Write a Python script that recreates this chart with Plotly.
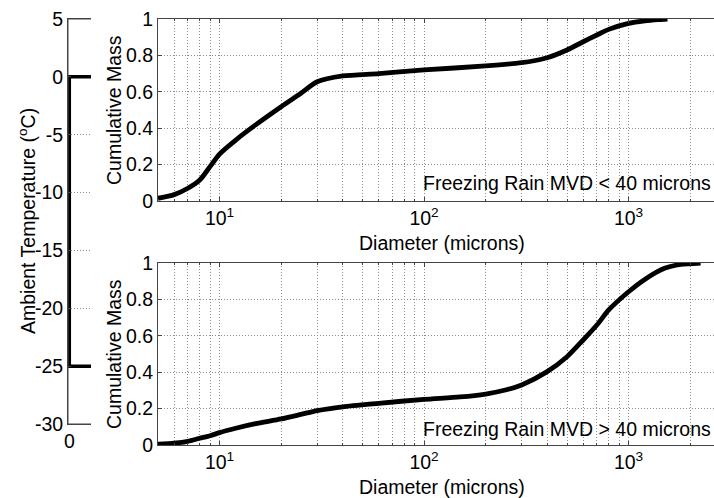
import math
import plotly.graph_objects as go

# ---- data ----
diam_small = [5, 6, 7, 8, 9, 10, 12, 15, 20, 25, 30, 40, 60, 100, 200, 300, 350,
              400, 500, 600, 700, 800, 1000, 1200, 1400, 1550]
mass_small = [0.015, 0.035, 0.07, 0.115, 0.19, 0.258, 0.335, 0.418, 0.518, 0.592,
              0.655, 0.687, 0.70, 0.72, 0.742, 0.76, 0.772, 0.787, 0.83, 0.875,
              0.912, 0.943, 0.976, 0.99, 0.997, 1.0]

diam_large = [5, 6, 7, 8, 9, 10, 12, 15, 20, 25, 30, 40, 60, 100, 150, 200, 250,
              300, 400, 500, 600, 700, 800, 1000, 1200, 1500, 1800, 2250]
mass_large = [0.005, 0.01, 0.02, 0.037, 0.051, 0.068, 0.092, 0.117, 0.143, 0.168,
              0.189, 0.21, 0.229, 0.251, 0.264, 0.28, 0.302, 0.33, 0.403, 0.485,
              0.577, 0.659, 0.742, 0.842, 0.91, 0.971, 0.992, 1.0]

temp_warm = 0     # degC, upper temperature bound
temp_cold = -25   # degC, lower temperature bound
bracket_x = [1, 0, 0, 1]

x_major = [10, 100, 1000]
x_major_text = ["10<sup>1</sup>", "10<sup>2</sup>", "10<sup>3</sup>"]
x_minor = [5, 6, 7, 8, 9, 20, 30, 40, 50, 60, 70, 80, 90,
           200, 300, 400, 500, 600, 700, 800, 900, 2000]
y_ticks = [0, 0.2, 0.4, 0.6, 0.8, 1]
y_ticktext = ["0", "0.2", "0.4", "0.6", "0.8", "1"]
t_ticks = [5, 0, -5, -10, -15, -20, -25, -30]
t_ticktext = ["5", "0", "-5", "-10", "-15", "-20", "-25", "-30"]

label_small = "Freezing Rain MVD < 40 microns"
label_large = "Freezing Rain MVD > 40 microns"

# ---- styling ----
W, H = 714, 498
FONT = "Liberation Sans, Arial, Helvetica, sans-serif"
FS = 19.5
AX = "#444444"
GRID = "#8c8c8c"
DASH = "1px,2px"


def px_x(p):
    return p / W


def px_y(p):
    return 1 - p / H


x_lo = math.log10(5)
x_hi = x_lo + (714 - 158) / 204.5

fig = go.Figure()
curve = dict(color="black", width=4.8, shape="spline", smoothing=0.7)
fig.add_trace(go.Scatter(x=diam_small, y=mass_small, mode="lines", line=curve,
                         xaxis="x", yaxis="y", hoverinfo="skip"))
fig.add_trace(go.Scatter(x=diam_large, y=mass_large, mode="lines", line=curve,
                         xaxis="x2", yaxis="y2", hoverinfo="skip"))
fig.add_trace(go.Scatter(x=bracket_x, y=[temp_warm, temp_warm, temp_cold, temp_cold],
                         mode="lines", line=dict(color="black", width=3.5),
                         xaxis="x3", yaxis="y3", hoverinfo="skip"))

tickfont = dict(family=FONT, size=FS, color="black")
xcommon = dict(type="log", range=[x_lo, x_hi], showline=True, linecolor=AX,
               linewidth=1, mirror="ticks", ticks="inside", ticklen=4,
               tickcolor=AX, tickmode="array", tickvals=x_major,
               ticktext=x_major_text, showgrid=True, gridcolor=GRID,
               griddash=DASH, gridwidth=1, zeroline=False, automargin=False,
               tickfont=tickfont,
               minor=dict(tickmode="array", tickvals=x_minor, ticks="inside",
                          ticklen=2, tickcolor=AX, showgrid=True,
                          gridcolor=GRID, griddash=DASH, gridwidth=1))
ycommon = dict(range=[0, 1], showline=True, linecolor=AX, linewidth=1,
               mirror=False, ticks="inside", ticklen=4, tickcolor=AX,
               tickmode="array", tickvals=y_ticks, ticktext=y_ticktext,
               showgrid=True, gridcolor=GRID, griddash=DASH, gridwidth=1,
               zeroline=False, automargin=False, tickfont=tickfont)

plot_x_dom = [px_x(158), 1]
top_dom = [px_y(201), px_y(19)]
bot_dom = [px_y(445), px_y(263)]
temp_dom = [px_y(424), px_y(19)]
temp_xdom = [px_x(68), px_x(91)]

fig.update_layout(
    template="none",
    width=W, height=H, margin=dict(l=0, r=0, t=0, b=0, pad=0, autoexpand=False),
    paper_bgcolor="white", plot_bgcolor="white", showlegend=False,
    font=dict(family=FONT, size=FS, color="black"),
    xaxis=dict(xcommon, domain=plot_x_dom, anchor="y"),
    yaxis=dict(ycommon, domain=top_dom, anchor="x"),
    xaxis2=dict(xcommon, domain=plot_x_dom, anchor="y2"),
    yaxis2=dict(ycommon, domain=bot_dom, anchor="x2"),
    xaxis3=dict(domain=temp_xdom, anchor="y3", range=[-0.06, 1],
                showline=True, linecolor=AX, linewidth=1, mirror=True,
                ticks="", tickmode="array", tickvals=[0], ticktext=["0"],
                showgrid=False, zeroline=False, automargin=False,
                tickfont=tickfont),
    yaxis3=dict(domain=temp_dom, anchor="x3", range=[-30, 5],
                showline=True, linecolor=AX, linewidth=1, mirror=False,
                ticks="inside", ticklen=3, tickcolor=AX, tickmode="array",
                tickvals=t_ticks, ticktext=t_ticktext, showgrid=True,
                gridcolor=GRID, griddash=DASH, zeroline=False,
                automargin=False, tickfont=tickfont),
)

# frame of the temperature axes (top, bottom, left)
frame = dict(type="line", xref="paper", yref="paper", layer="above",
             line=dict(color=AX, width=1))
fig.update_layout(shapes=[
    dict(frame, x0=temp_xdom[0], x1=temp_xdom[1], y0=temp_dom[1], y1=temp_dom[1]),
    dict(frame, x0=temp_xdom[0], x1=temp_xdom[1], y0=temp_dom[0], y1=temp_dom[0]),
    dict(frame, x0=temp_xdom[0], x1=temp_xdom[0], y0=temp_dom[0], y1=temp_dom[1]),
])

ann = []
tf = dict(family=FONT, size=FS, color="black")
ann.append(dict(text="Ambient Temperature (<sup>o</sup>C)", x=px_x(27), y=px_y(221),
                xref="paper", yref="paper", textangle=-90, showarrow=False,
                xanchor="center", yanchor="middle", font=tf))
for yc in (110, 354):
    ann.append(dict(text="Cumulative Mass", x=px_x(114), y=px_y(yc),
                    xref="paper", yref="paper", textangle=-90, showarrow=False,
                    xanchor="center", yanchor="middle", font=tf))
for yc in (243, 487):
    ann.append(dict(text="Diameter (microns)", x=px_x(441.5), y=px_y(yc),
                    xref="paper", yref="paper", showarrow=False,
                    xanchor="center", yanchor="middle", font=tf))
ann.append(dict(text=label_small, x=px_x(713), y=px_y(183), xref="paper",
                yref="paper", showarrow=False, xanchor="right",
                yanchor="middle", font=tf))
ann.append(dict(text=label_large, x=px_x(713), y=px_y(429), xref="paper",
                yref="paper", showarrow=False, xanchor="right",
                yanchor="middle", font=tf))
fig.update_layout(annotations=ann)

fig.write_html("out.html")
